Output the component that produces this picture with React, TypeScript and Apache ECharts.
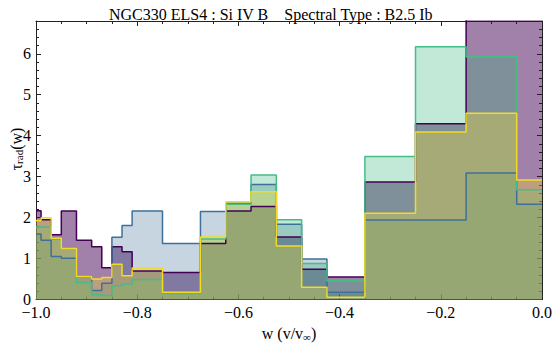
import React, { useEffect, useRef } from 'react';
import * as echarts from 'echarts';

const TITLE = 'NGC330 ELS4 : Si IV B    Spectral Type : B2.5 Ib';
const binEdges = [-1.0, -0.99, -0.97, -0.95, -0.92, -0.89, -0.87, -0.85, -0.83, -0.81, -0.75, -0.675, -0.625, -0.575, -0.525, -0.475, -0.425, -0.35, -0.25, -0.15, -0.05, 0.0];
const purpleValues = [2.17, 1.95, 1.58, 2.16, 1.45, 1.29, 0.78, 1.29, 1.17, 0.70, 0.66, 1.37, 2.16, 2.27, 1.53, 0.74, 0.55, 2.87, 4.29, 7.5, 7.5];
const blueValues = [1.6, 1.45, 1.05, 1.01, 0.58, 0.22, 0.40, 1.52, 1.81, 2.16, 1.37, 2.15, 2.35, 2.81, 1.84, 0.99, 0.18, 1.94, 1.94, 3.09, 2.33];
const greenValues = [1.77, 1.77, 1.47, 1.25, 0.42, 0.12, 0.10, 0.34, 0.38, 0.49, 0.15, 1.48, 2.33, 3.04, 1.95, 0.88, 0.46, 3.49, 6.17, 5.93, 2.68];
const yellowValues = [1.93, 2.0, 1.5, 1.25, 0.57, 0.5, 0.54, 0.86, 0.58, 0.77, 0.18, 1.53, 2.39, 2.63, 1.31, 0.30, 0.06, 2.11, 4.09, 4.55, 2.92];

const SERIF = '"Liberation Serif", "DejaVu Serif", serif';

const seriesDefs = [
  { name: 'purple', values: purpleValues, line: '#440154', fill: 'rgba(68,1,84,0.5)' },
  { name: 'blue', values: blueValues, line: '#3f709a', fill: 'rgba(49,104,142,0.28)' },
  { name: 'green', values: greenValues, line: '#45bd85', fill: 'rgba(53,183,121,0.3)' },
  { name: 'yellow', values: yellowValues, line: '#f2dc22', fill: 'rgba(253,231,37,0.3)' },
];

function stepData(values: number[]) {
  const pts: number[][] = values.map((v, i) => [binEdges[i], v]);
  pts.push([binEdges[binEdges.length - 1], values[values.length - 1]]);
  return pts;
}

function fmtX(v: number) {
  const s = Math.abs(v).toFixed(1);
  return v < -1e-9 ? '\u2212' + s : s;
}

export default function App() {
  const ref = useRef<HTMLDivElement>(null);
  useEffect(() => {
    if (!ref.current) return;
    const chart = echarts.init(ref.current, null, { renderer: 'svg' });
    const axisColor = '#222';
    const baseX = {
      type: 'value',
      min: -1,
      max: 0,
      interval: 0.2,
      splitLine: { show: false },
      axisLine: { show: true, onZero: false, lineStyle: { color: axisColor, width: 1 } },
      axisTick: { show: true, inside: true, length: 5, lineStyle: { color: axisColor } },
      minorTick: { show: true, splitNumber: 4, length: 3, lineStyle: { color: axisColor } },
    };
    const baseY = {
      type: 'value',
      min: 0,
      max: 6.8,
      interval: 1,
      splitLine: { show: false },
      axisLine: { show: true, onZero: false, lineStyle: { color: axisColor, width: 1 } },
      axisTick: { show: true, inside: true, length: 5, lineStyle: { color: axisColor } },
      minorTick: { show: true, splitNumber: 5, length: 3, lineStyle: { color: axisColor } },
    };
    chart.setOption({
      animation: false,
      backgroundColor: '#ffffff',
      title: {
        text: TITLE,
        left: 104,
        top: 1,
        textStyle: { fontFamily: SERIF, fontSize: 16, fontWeight: 'normal', color: '#000' },
      },
      grid: { left: 36, right: 13, top: 21, bottom: 43 },
      xAxis: [
        {
          ...baseX,
          position: 'bottom',
          axisLabel: { formatter: fmtX, fontFamily: SERIF, fontSize: 16, color: '#000', margin: 5 },
          name: '{a|w (v/v}{s|\u221e}{a|)}',
          nameLocation: 'middle',
          nameGap: 19,
          nameTextStyle: {
            rich: {
              a: { fontFamily: SERIF, fontSize: 16, color: '#000' },
              s: { fontFamily: SERIF, fontSize: 11, color: '#000', verticalAlign: 'bottom', padding: [6, 0, 0, 0] },
            },
          },
        },
        { ...baseX, position: 'top', axisLabel: { show: false } },
      ],
      yAxis: [
        {
          ...baseY,
          position: 'left',
          axisLabel: {
            formatter: (v: number) => (Math.abs(v - Math.round(v)) < 1e-6 ? String(Math.round(v)) : ''),
            showMaxLabel: false,
            fontFamily: SERIF,
            fontSize: 16,
            color: '#000',
            margin: 5,
          },
        },
        { ...baseY, position: 'right', axisLabel: { show: false } },
      ],
      graphic: [
        {
          type: 'text',
          x: 16,
          y: 149,
          rotation: Math.PI / 2,
          style: {
            text: '{a|\u03c4}{s|rad}{a|(w)}',
            align: 'center',
            verticalAlign: 'middle',
            rich: {
              a: { fontFamily: SERIF, fontSize: 16, fill: '#000', color: '#000' },
              s: { fontFamily: SERIF, fontSize: 11, fill: '#000', color: '#000', verticalAlign: 'bottom', padding: [6, 0, 0, 0] },
            },
          },
        },
      ],
      series: seriesDefs.map((d) => ({
        name: d.name,
        type: 'line',
        xAxisIndex: 0,
        yAxisIndex: 0,
        step: 'end',
        showSymbol: false,
        symbol: 'none',
        clip: true,
        data: stepData(d.values),
        lineStyle: { color: d.line, width: 1.5 },
        itemStyle: { color: d.line },
        areaStyle: { color: d.fill, opacity: 1 },
      })),
    });
    return () => chart.dispose();
  }, []);
  return <div ref={ref} style={{ position: 'fixed', left: 0, top: 0, width: 555, height: 347 }} />;
}
